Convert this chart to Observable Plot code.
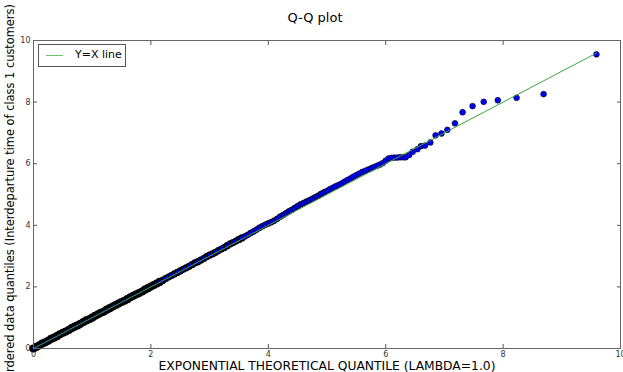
<!DOCTYPE html>
<html>
<head>
<meta charset="utf-8">
<script src="https://cdn.jsdelivr.net/npm/d3@7"></script>
<script src="https://cdn.jsdelivr.net/npm/@observablehq/plot@0.6"></script>
<style>
  html, body { margin: 0; padding: 0; background: #fff; overflow: hidden; }
  #wrap { position: relative; width: 623px; height: 372px; font-family: "DejaVu Sans", sans-serif; }
  #legend { position: absolute; left: 38px; top: 44px; width: 88px; height: 23px; border: 1px solid #555; background: #fff; box-sizing: border-box; }
  #legend .sw { position: absolute; left: 7px; top: 10px; width: 17px; height: 0; border-top: 1px solid #6cc36c; }
  #legend .lb { position: absolute; left: 36px; top: 3px; font-size: 11px; color: #000; line-height: 14px; white-space: nowrap; }
</style>
</head>
<body>
<div id="wrap"></div>
<script>
// Theoretical exponential quantiles (x) and ordered data quantiles (y)
const theoQ = [
  0.00,0.05,0.10,0.15,0.20,0.25,0.30,0.35,0.40,0.45,0.50,0.55,0.60,0.65,0.70,0.75,0.80,0.85,0.90,0.95,
  1.00,1.05,1.10,1.15,1.20,1.25,1.30,1.35,1.40,1.45,1.50,1.55,1.60,1.65,1.70,1.75,1.80,1.85,1.90,1.95,
  2.00,2.05,2.10,2.15,2.20,2.25,2.30,2.35,2.40,2.45,2.50,2.55,2.60,2.65,2.70,2.75,2.80,2.85,2.90,2.95,
  3.00,3.05,3.10,3.15,3.20,3.25,3.30,3.35,3.40,3.45,3.50,3.55,3.60,3.65,3.70,3.75,3.80,3.85,3.90,3.95,
  4.00,4.05,4.10,4.15,4.20,4.25,4.30,4.35,4.40,4.45,4.50,4.55,4.60,4.65,4.70,4.75,4.80,4.85,4.90,4.95,
  5.00,5.05,5.10,5.15,5.20,5.25,5.30,5.35,5.40,5.45,5.50,5.55,5.60,5.65,5.70,5.75,5.80,5.85,5.90,5.95,
  6.00,6.05,6.10,6.15,6.20,6.25,6.30,
  6.34,6.40,6.46,6.54,6.60,6.67,6.76,6.85,6.95,7.05,7.18,7.31,7.48,7.67,7.91,8.23,8.69,9.59
];
const dataQ = [
  0.00,0.05,0.10,0.16,0.20,0.25,0.31,0.35,0.40,0.46,0.51,0.55,0.60,0.66,0.71,0.75,0.80,0.86,0.91,0.95,
  1.00,1.06,1.11,1.16,1.20,1.26,1.31,1.36,1.41,1.46,1.51,1.55,1.60,1.66,1.71,1.76,1.80,1.85,1.91,1.96,
  2.01,2.06,2.11,2.16,2.21,2.27,2.32,2.37,2.42,2.47,2.52,2.57,2.62,2.67,2.72,2.78,2.82,2.87,2.92,2.98,
  3.03,3.07,3.12,3.18,3.23,3.28,3.34,3.40,3.44,3.49,3.54,3.59,3.64,3.69,3.75,3.80,3.86,3.92,3.97,4.02,
  4.06,4.10,4.15,4.21,4.28,4.33,4.39,4.45,4.50,4.56,4.62,4.68,4.72,4.77,4.81,4.86,4.91,4.96,5.02,5.07,
  5.12,5.17,5.22,5.27,5.31,5.36,5.42,5.47,5.52,5.58,5.63,5.68,5.73,5.77,5.81,5.85,5.89,5.93,5.97,6.02,
  6.10,6.17,6.19,6.20,6.20,6.21,6.21,
  6.21,6.28,6.39,6.47,6.57,6.59,6.69,6.92,6.98,7.10,7.31,7.67,7.87,8.01,8.06,8.14,8.26,9.55
];
// Reference line Y = X
const refX = [0, 9.59];
const refY = [0, 9.59];
const ticks = [0, 2, 4, 6, 8, 10];

const points = theoQ.map((x, i) => ({x, y: dataQ[i]}));
const ref = refX.map((x, i) => ({x, y: refY[i]}));

const axisStyle = {ticks, tickSize: -4, fontSize: 8, color: "#333", stroke: "#555", label: null};

const chart = Plot.plot({
  width: 623,
  height: 372,
  marginTop: 40,
  marginBottom: 24,
  marginLeft: 33,
  marginRight: 3,
  style: {fontFamily: "DejaVu Sans, sans-serif", background: "#fff"},
  x: {domain: [0, 10]},
  y: {domain: [0, 10]},
  marks: [
    Plot.axisX({...axisStyle, anchor: "bottom", tickPadding: 7}),
    Plot.axisX({...axisStyle, anchor: "top", tickFormat: () => ""}),
    Plot.axisY({...axisStyle, anchor: "left", tickPadding: 7}),
    Plot.axisY({...axisStyle, anchor: "right", tickFormat: () => ""}),
    Plot.dot(points, {
      x: "x", y: "y", r: 2.9, fill: "#0000ff", stroke: "#000",
      strokeWidth: d => d.x < 2.2 ? 2.4 : d.x < 3.6 ? 1.4 : d.x < 5 ? 0.9 : 0.6
    }),
    Plot.line(ref, {x: "x", y: "y", stroke: "#3da63d", strokeWidth: 1}),
    Plot.frame({stroke: "#666"}),
    Plot.text(["Q-Q plot"], {frameAnchor: "top", dx: -12, dy: -28, fontSize: 13, fill: "#000"}),
    Plot.text(["EXPONENTIAL THEORETICAL QUANTILE (LAMBDA=1.0)"], {frameAnchor: "bottom", dy: 21, fontSize: 12.3, fill: "#000"}),
    Plot.text(["Ordered data quantiles (Interdeparture time of class 1 customers)"], {frameAnchor: "left", textAnchor: "middle", dx: -23, dy: -2, rotate: -90, fontSize: 11.4, fill: "#000"})
  ]
});
const wrap = document.getElementById("wrap");
wrap.appendChild(chart);
const lg = document.createElement("div");
lg.id = "legend";
lg.innerHTML = '<div class="sw"></div><div class="lb">Y=X line</div>';
wrap.appendChild(lg);
</script>
</body>
</html>
